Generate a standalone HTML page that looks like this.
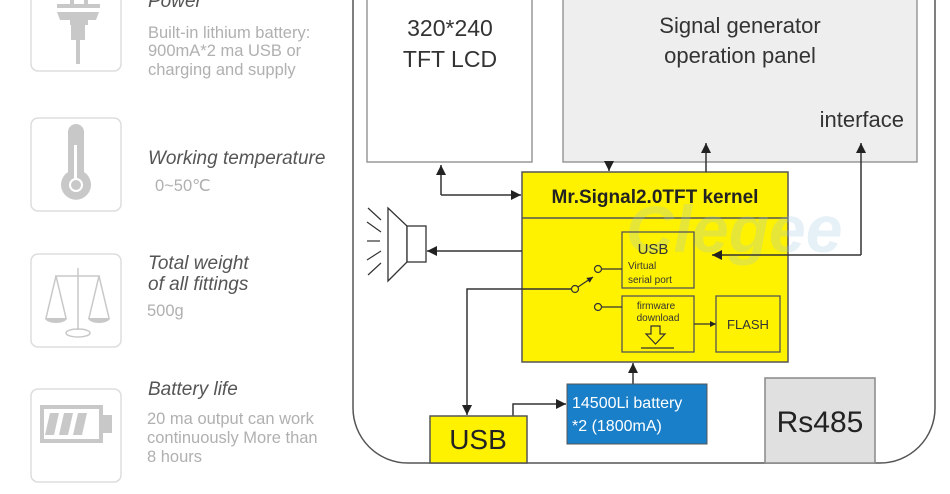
<!DOCTYPE html>
<html><head><meta charset="utf-8"><style>
html,body{margin:0;padding:0;background:#fff;}
svg{display:block;}
</style></head><body>
<svg width="950" height="494" viewBox="0 0 950 494" xmlns="http://www.w3.org/2000/svg">
<defs>
<marker id="ah" viewBox="0 0 10 10" refX="10" refY="5" markerWidth="10" markerHeight="10" markerUnits="userSpaceOnUse" orient="auto"><path d="M0,0 L10,5 L0,10 z" fill="#222"/></marker>
<marker id="ahs" viewBox="0 0 10 10" refX="10" refY="5" markerWidth="6" markerHeight="6" markerUnits="userSpaceOnUse" orient="auto"><path d="M0,0 L10,5 L0,10 z" fill="#222"/></marker>
</defs>
<g fill="none" stroke="#ddd" stroke-width="1.5">
<rect x="31" y="-20" width="90" height="91" rx="7"/>
<rect x="31" y="118" width="90" height="93" rx="7"/>
<rect x="31" y="254" width="90" height="93" rx="7"/>
<rect x="31" y="389" width="90" height="93" rx="7"/>
</g>
<g fill="#c8c8c8">
<rect x="70" y="0" width="4" height="4"/><rect x="84" y="0" width="4" height="4"/>
<rect x="57" y="4" width="43" height="4"/>
<path d="M57,12 H99 L96,20 H88 V25 H85 V40 H71 V25 H70 V20 H60 z"/>
<rect x="76" y="40" width="4" height="24"/>
<path d="M68,132 a8,8 0 0 1 16,0 V172 a15,15 0 1 1 -16,0 z"/>
</g>
<g fill="#fff"><rect x="74" y="145" width="3" height="35"/><circle cx="76" cy="185" r="7"/></g>
<circle cx="76" cy="185" r="5" fill="#c8c8c8"/>
<g stroke="#c8c8c8" stroke-width="1.5" fill="none">
<line x1="78" y1="268" x2="78" y2="330"/>
<line x1="55" y1="276" x2="100" y2="276"/>
<line x1="56" y1="276" x2="46" y2="318"/><line x1="56" y1="276" x2="66" y2="318"/>
<line x1="99" y1="276" x2="89" y2="318"/><line x1="99" y1="276" x2="109" y2="318"/>
<ellipse cx="78" cy="333" rx="12" ry="4"/>
</g>
<path d="M45,318 H67 a11,5 0 0 1 -22,0z M88,318 H110 a11,5 0 0 1 -22,0z" fill="#c8c8c8"/>
<rect x="42" y="407" width="59" height="34" fill="none" stroke="#c8c8c8" stroke-width="4"/>
<rect x="102" y="415" width="10" height="18" fill="#c8c8c8"/>
<path d="M50,413 h9 l-5,22 h-9z M64,413 h9 l-5,22 h-9z M78,413 h9 l-5,22 h-9z" fill="#c8c8c8"/>
<g font-family="Liberation Sans, sans-serif">
<text x="148" y="7" font-size="19" font-style="italic" fill="#555">Power</text>
<g font-size="16.5" fill="#b0b0b0">
<text x="148" y="38">Built-in lithium battery:</text>
<text x="148" y="56">900mA*2 ma USB or</text>
<text x="148" y="75">charging and supply</text>
<text x="155" y="191">0~50℃</text>
<text x="147" y="316">500g</text>
<text x="147" y="424">20 ma output can work</text>
<text x="147" y="443">continuously More than</text>
<text x="147" y="462">8 hours</text>
</g>
<g font-size="19" font-style="italic" fill="#555">
<text x="148" y="164">Working temperature</text>
<text x="148" y="269">Total weight</text>
<text x="148" y="290">of all fittings</text>
<text x="148" y="395">Battery life</text>
</g>
</g>
<path d="M353,-5 V408 a55,55 0 0 0 55,55 H880 a55,55 0 0 0 55,-55 V-5" fill="none" stroke="#555" stroke-width="1.5"/>
<rect x="367" y="-5" width="165" height="167" fill="#fff" stroke="#999" stroke-width="1.5"/>
<g font-family="Liberation Sans, DejaVu Sans, sans-serif" fill="#333" font-size="23" text-anchor="middle">
<text x="450" y="36">320*240</text><text x="450" y="67">TFT LCD</text></g>
<rect x="563" y="-5" width="354" height="167" fill="#eeeeee" stroke="#999" stroke-width="1.5"/>
<g font-family="Liberation Sans, DejaVu Sans, sans-serif" fill="#333" font-size="22">
<text x="740" y="33" text-anchor="middle">Signal generator</text>
<text x="740" y="63" text-anchor="middle">operation panel</text>
<text x="904" y="127" text-anchor="end">interface</text></g>
<rect x="522" y="172" width="266" height="190" fill="#fff200" stroke="#555" stroke-width="1.5"/>
<line x1="522" y1="218" x2="788" y2="218" stroke="#555" stroke-width="1.5"/>
<text x="626" y="252" font-family="Liberation Sans, sans-serif" font-size="66" font-style="italic" font-weight="bold" fill="#9cc4e0" opacity="0.25">Clegee</text>
<text x="655" y="203" text-anchor="middle" font-family="Liberation Sans, DejaVu Sans, sans-serif" font-weight="bold" font-size="19" fill="#222">Mr.Signal2.0TFT kernel</text>
<g fill="none" stroke="#555" stroke-width="1.3">
<rect x="622" y="232" width="72" height="56"/>
<rect x="622" y="296" width="72" height="56"/>
<rect x="716" y="296" width="64" height="56"/>
</g>
<g font-family="Liberation Sans, DejaVu Sans, sans-serif" fill="#333">
<text x="653" y="254" text-anchor="middle" font-size="15">USB</text>
<text x="628" y="269" font-size="10">Virtual</text>
<text x="628" y="283" font-size="10">serial port</text>
<text x="656" y="309" text-anchor="middle" font-size="10">firmware</text>
<text x="658" y="321" text-anchor="middle" font-size="10">download</text>
<text x="748" y="329" text-anchor="middle" font-size="13">FLASH</text>
</g>
<path d="M651,326 h9 v8 h5 l-9.5,10 l-9.5,-10 h5z" fill="none" stroke="#333" stroke-width="1.2"/>
<line x1="641" y1="348" x2="674" y2="348" stroke="#333" stroke-width="1.2"/>
<g stroke="#333" stroke-width="1.2" fill="none">
<circle cx="598" cy="269" r="3.5"/><circle cx="575" cy="289" r="3.5"/><circle cx="598" cy="307" r="3.5"/>
<line x1="601.5" y1="269" x2="622" y2="269"/><line x1="601.5" y1="307" x2="622" y2="307"/>
<line x1="578" y1="287" x2="593" y2="277" marker-end="url(#ahs)"/>
<line x1="694" y1="324" x2="716" y2="324" marker-end="url(#ahs)"/>
</g>
<g stroke="#333" stroke-width="1.5" fill="none">
<path d="M441,195 V165" marker-end="url(#ah)"/>
<path d="M441,195 H521" marker-end="url(#ah)"/>
<path d="M609,162 V171" marker-end="url(#ah)"/>
<path d="M706,172 V143" marker-end="url(#ah)"/>
<path d="M861,255 V143" marker-end="url(#ah)"/>
<path d="M861,255 H712" marker-end="url(#ah)"/>
<path d="M522,251 H427" marker-end="url(#ah)"/>
<path d="M571,289 H467 V415" marker-end="url(#ah)"/>
<path d="M513,416 V404 H566" marker-end="url(#ah)"/>
<path d="M633,384 V363" marker-end="url(#ah)"/>
</g>
<g stroke="#333" stroke-width="1.3" fill="#fff">
<path d="M388,208 L407,226 V262 L388,281 z"/>
<rect x="407" y="226" width="19" height="36"/>
</g>
<g stroke="#333" stroke-width="1.2">
<line x1="368" y1="208" x2="381" y2="220"/><line x1="367" y1="222" x2="381" y2="232"/>
<line x1="367" y1="241" x2="380" y2="241"/><line x1="367" y1="260" x2="381" y2="251"/>
<line x1="368" y1="275" x2="381" y2="263"/>
</g>
<rect x="430" y="416" width="97" height="47" fill="#fff200" stroke="#555" stroke-width="1.5"/>
<text x="478" y="449" text-anchor="middle" font-family="Liberation Sans, sans-serif" font-size="28" fill="#222">USB</text>
<rect x="567" y="384" width="140" height="60" fill="#1a7fc9" stroke="#555" stroke-width="1"/>
<g font-family="Liberation Sans, DejaVu Sans, sans-serif" font-size="16" fill="#fff">
<text x="572" y="408">14500Li battery</text><text x="572" y="431">*2 (1800mA)</text></g>
<rect x="765" y="378" width="110" height="85" fill="#e0e0e0" stroke="#888" stroke-width="1.5"/>
<text x="820" y="432" text-anchor="middle" font-family="Liberation Sans, sans-serif" font-size="30" fill="#222">Rs485</text>
</svg>
</body></html>
